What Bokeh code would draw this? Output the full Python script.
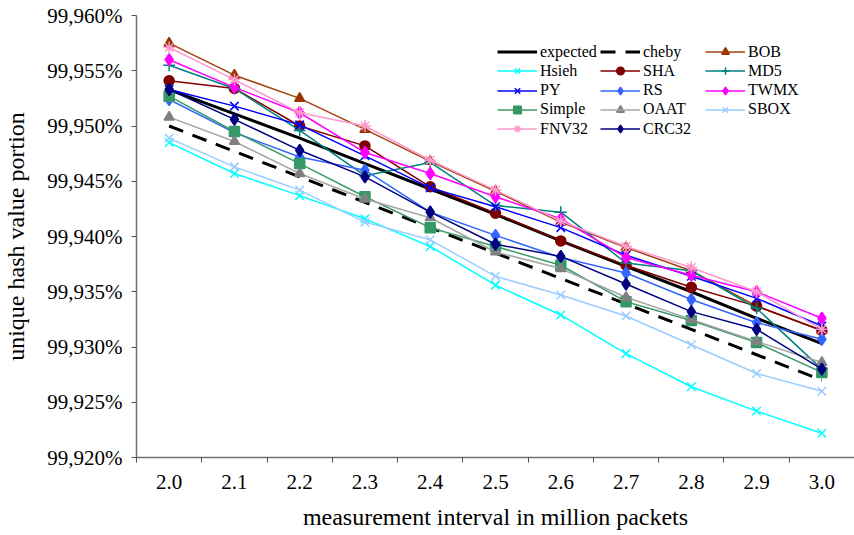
from bokeh.plotting import figure
from bokeh.models import (FixedTicker, CustomJSTickFormatter, Range1d,
                          Legend, LegendItem)
from bokeh.embed import file_html
from bokeh.resources import INLINE

# Measurement interval (million packets)
intervals = [2.0, 2.1, 2.2, 2.3, 2.4, 2.5, 2.6, 2.7, 2.8, 2.9, 3.0]

# Unique hash value portion in percent, one list per hash function
expected = [99.9533, 99.9511, 99.9489, 99.9466, 99.9443, 99.9420, 99.9396, 99.9373, 99.9350, 99.9326, 99.9303]
cheby = [99.9500, 99.9477, 99.9454, 99.9431, 99.9408, 99.9385, 99.9362, 99.9339, 99.9316, 99.9293, 99.9270]
bob = [99.9575, 99.9546, 99.9525, 99.9497, 99.9468, 99.9441, 99.9413, 99.9390, 99.9369, 99.9337, 99.9315]
hsieh = [99.9485, 99.9457, 99.9437, 99.9416, 99.9391, 99.9356, 99.9329, 99.9294, 99.9264, 99.9242, 99.9222]
sha = [99.9541, 99.9534, 99.9500, 99.9482, 99.9445, 99.9421, 99.9396, 99.9374, 99.9354, 99.9337, 99.9315]
md5 = [99.9555, 99.9534, 99.9496, 99.9455, 99.9467, 99.9428, 99.9422, 99.9376, 99.9369, 99.9335, 99.9280]
py = [99.9533, 99.9518, 99.9501, 99.9473, 99.9444, 99.9427, 99.9408, 99.9383, 99.9364, 99.9344, 99.9319]
rs = [99.9524, 99.9494, 99.9472, 99.9460, 99.9422, 99.9401, 99.9381, 99.9367, 99.9343, 99.9322, 99.9307]
twmx = [99.9560, 99.9535, 99.9512, 99.9476, 99.9457, 99.9436, 99.9416, 99.9381, 99.9365, 99.9350, 99.9326]
simple = [99.9527, 99.9495, 99.9466, 99.9436, 99.9408, 99.9391, 99.9374, 99.9341, 99.9324, 99.9304, 99.9277]
oaat = [99.9508, 99.9486, 99.9457, 99.9434, 99.9417, 99.9386, 99.9371, 99.9345, 99.9325, 99.9305, 99.9286]
sbox = [99.9489, 99.9463, 99.9442, 99.9413, 99.9397, 99.9364, 99.9347, 99.9328, 99.9302, 99.9276, 99.9260]
fnv32 = [99.9571, 99.9542, 99.9512, 99.9500, 99.9469, 99.9442, 99.9414, 99.9391, 99.9372, 99.9350, 99.9316]
crc32 = [99.9533, 99.9506, 99.9478, 99.9454, 99.9422, 99.9393, 99.9382, 99.9357, 99.9332, 99.9316, 99.9280]

y_ticks = [99.920, 99.925, 99.930, 99.935, 99.940, 99.945, 99.950, 99.955, 99.960]

# legend entries, row by row, three per row
legend_order = ["expected", "cheby", "BOB",
                "Hsieh", "SHA", "MD5",
                "PY", "RS", "TWMX",
                "Simple", "OAAT", "SBOX",
                "FNV32", "CRC32"]

FONT = "Liberation Serif"
LEGEND_FONT = "serif"

p = figure(width=854, height=535, output_backend="svg", toolbar_location=None,
           x_range=Range1d(1.95, 3.05), y_range=Range1d(99.920, 99.960),
           min_border_left=133, min_border_right=0, min_border_top=15,
           min_border_bottom=78)
p.outline_line_color = None
p.grid.visible = False
p.background_fill_color = "white"
p.border_fill_color = "white"

# category-style x axis: labels at the intervals, tick marks between them
half = 0.05
boundaries = [x - half for x in intervals] + [intervals[-1] + half]
xa = p.xaxis[0]
xa.ticker = FixedTicker(ticks=intervals, minor_ticks=boundaries)
xa.formatter = CustomJSTickFormatter(code="return tick.toFixed(1);")
xa.major_tick_in = 0
xa.major_tick_out = 0
xa.minor_tick_in = 0
xa.minor_tick_out = 5
xa.axis_label = "measurement interval in million packets"

ya = p.yaxis[0]
ya.ticker = FixedTicker(ticks=y_ticks)
ya.formatter = CustomJSTickFormatter(code="return tick.toFixed(3).replace('.', ',') + '%';")
ya.major_tick_in = 0
ya.major_tick_out = 5
ya.minor_tick_in = 0
ya.minor_tick_out = 0
ya.axis_label = "unique hash value portion"

for ax in (xa, ya):
    ax.axis_line_color = "#707070"
    ax.axis_line_width = 1.5
    ax.major_tick_line_color = "#505050"
    ax.minor_tick_line_color = "#505050"
    ax.major_label_text_font = FONT
    ax.major_label_text_font_size = "21px"
    ax.major_label_text_color = "black"
    ax.axis_label_text_font = FONT
    ax.axis_label_text_font_size = "24px"
    ax.axis_label_text_font_style = "normal"
    ax.axis_label_text_color = "black"
xa.major_label_standoff = 12
xa.axis_label_standoff = 12
ya.major_label_standoff = 9
ya.axis_label_standoff = 15

# (label, values, line colour, marker, marker colour)
series = [
    ("BOB", bob, "#A0420F", "triangle", "#993300"),
    ("Hsieh", hsieh, "#00FFFF", "x", "#00FFFF"),
    ("SHA", sha, "#800000", "circle", "#800000"),
    ("MD5", md5, "#008080", "cross", "#008080"),
    ("PY", py, "#0000FF", "x", "#0000FF"),
    ("RS", rs, "#3366FF", "diamond", "#3366FF"),
    ("TWMX", twmx, "#FF00FF", "diamond", "#FF00FF"),
    ("Simple", simple, "#3C9A68", "square", "#339966"),
    ("OAAT", oaat, "#A6A6A6", "triangle", "#808080"),
    ("SBOX", sbox, "#99CCFF", "x", "#99CCFF"),
    ("FNV32", fnv32, "#FF99CC", "asterisk", "#FF99CC"),
    ("CRC32", crc32, "#000080", "diamond", "#000080"),
]

items = {}
r = p.line(intervals, expected, line_color="black", line_width=3)
items["expected"] = LegendItem(label="expected", renderers=[r])
r = p.line(intervals, cheby, line_color="black", line_width=3, line_dash="15 10")
items["cheby"] = LegendItem(label="cheby", renderers=[r])

for label, vals, lc, marker, mc in series:
    lr = p.line(intervals, vals, line_color=lc, line_width=1.5)
    size = 12 if marker in ("diamond", "asterisk", "cross", "x") else 10
    sr = p.scatter(intervals, vals, marker=marker, size=size,
                   fill_color=mc, line_color=mc, line_width=1.5)
    items[label] = LegendItem(label=label, renderers=[sr, lr])

# one small legend per entry, laid out in three columns
col_x = [361, 464, 569]
row_h = 19.2
top = 457 - 42
for i, name in enumerate(legend_order):
    row, col = divmod(i, 3)
    leg = Legend(items=[items[name]],
                 location=(col_x[col], top - row_h * (row + 1)),
                 orientation="vertical", border_line_color=None,
                 background_fill_alpha=0, padding=0, margin=0, spacing=0,
                 glyph_width=40, glyph_height=19, label_height=19,
                 label_standoff=3, label_text_font=LEGEND_FONT,
                 label_text_font_size="16px", label_text_color="black")
    p.add_layout(leg)

open("out.html", "w").write(file_html(p, INLINE))
